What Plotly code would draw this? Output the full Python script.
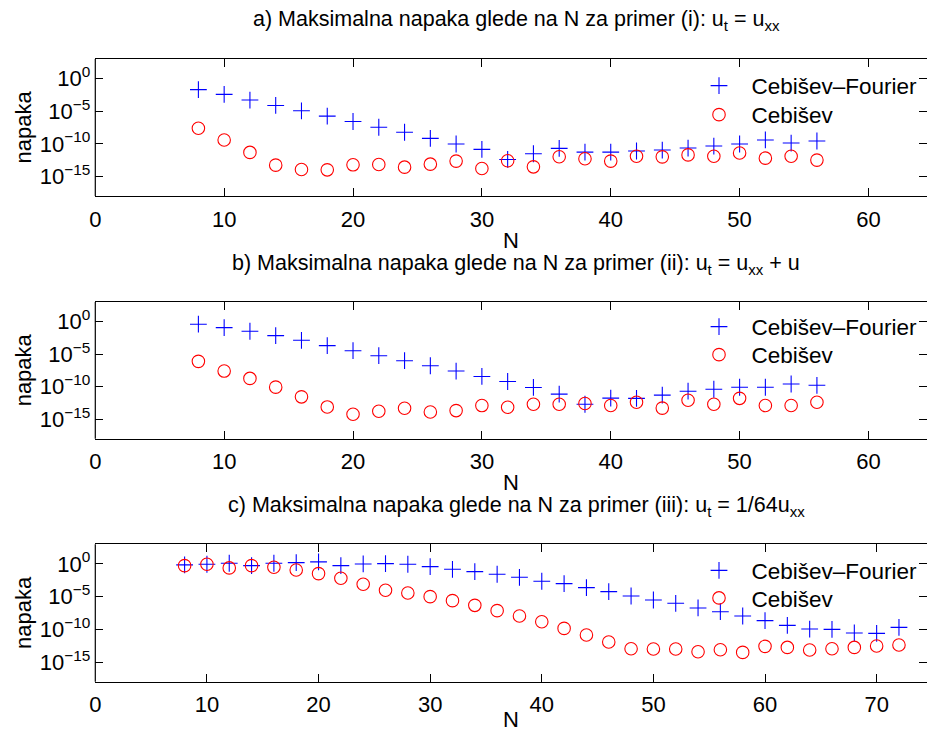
import plotly.graph_objects as go

# ---------------- data (log10 of maximum error) ----------------
N_ab = [8, 10, 12, 14, 16, 18, 20, 22, 24, 26, 28, 30, 32, 34, 36, 38, 40,
        42, 44, 46, 48, 50, 52, 54, 56]
N_c = [8, 10, 12, 14, 16, 18, 20, 22, 24, 26, 28, 30, 32, 34, 36, 38, 40,
       42, 44, 46, 48, 50, 52, 54, 56, 58, 60, 62, 64, 66, 68, 70, 72]

a_cf_log10 = [-1.70, -2.42, -3.29, -4.12, -4.94, -5.76, -6.58, -7.46, -8.23,
              -9.16, -10.03, -10.85, -12.40, -11.52, -10.70, -11.27, -11.27,
              -11.10, -10.96, -10.65, -10.34, -10.03, -9.41, -9.88, -9.57]
a_c_log10 = [-7.61, -9.41, -11.32, -13.27, -13.94, -13.99, -13.22, -13.17,
             -13.58, -13.12, -12.65, -13.79, -12.60, -13.53, -11.99, -12.29,
             -12.65, -11.90, -12.00, -11.70, -11.90, -11.40, -12.20, -11.90,
             -12.50]

b_cf_log10 = [-0.41, -0.93, -1.49, -2.16, -2.88, -3.70, -4.48, -5.25, -6.02,
              -6.79, -7.61, -8.44, -9.21, -10.13, -11.16, -12.71, -11.77,
              -11.80, -11.30, -10.70, -10.40, -10.10, -10.10, -9.60, -9.80]
b_c_log10 = [-6.12, -7.61, -8.74, -10.08, -11.57, -13.12, -14.25, -13.79,
             -13.32, -13.89, -13.68, -12.91, -13.17, -12.71, -12.71, -12.60,
             -12.90, -12.40, -13.30, -12.10, -12.70, -11.80, -12.90, -12.90,
             -12.40]

c_cf_log10 = [-0.15, -0.05, 0.10, -0.26, 0.10, 0.20, 0.31, -0.26, 0.00, 0.05,
              -0.05, -0.41, -0.82, -1.17, -1.58, -2.04, -2.65, -3.01, -3.62,
              -4.23, -4.90, -5.51, -6.02, -6.73, -7.30, -7.96, -8.67, -9.39,
              -9.95, -10.00, -10.56, -10.61, -9.69]
c_c_log10 = [-0.26, -0.05, -0.61, -0.26, -0.51, -0.92, -1.48, -2.19, -3.11,
             -4.03, -4.44, -5.00, -5.61, -6.33, -7.14, -7.96, -8.83, -9.85,
             -10.87, -11.94, -12.96, -13.01, -13.01, -13.42, -13.11, -13.52,
             -12.60, -12.76, -13.16, -12.96, -12.76, -12.55, -12.40]

titles = [
    "a) Maksimalna napaka glede na N za primer (i): u<sub>t</sub> = u<sub>xx</sub>",
    "b) Maksimalna napaka glede na N za primer (ii): u<sub>t</sub> = u<sub>xx</sub> + u",
    "c) Maksimalna napaka glede na N za primer (iii): u<sub>t</sub> = 1/64u<sub>xx</sub>",
]
name_cf = "Cebišev\u2013Fourier"
name_c = "Cebišev"
y_tickvals = [1e0, 1e-5, 1e-10, 1e-15]
y_ticktext = ["10<sup>0</sup>", "10<sup>\u22125</sup>", "10<sup>\u221210</sup>",
              "10<sup>\u221215</sup>"]
x_ticks_ab = [0, 10, 20, 30, 40, 50, 60]
x_ticks_c = [0, 10, 20, 30, 40, 50, 60, 70]

# ---------------- layout geometry ----------------
W, H = 927, 733
FONT = "Liberation Sans, Arial, Helvetica, sans-serif"
x_left = 95.3
panels = [  # (top px, bottom px)
    (59.0, 196.0),
    (302.0, 438.7),
    (544.3, 681.7),
]
x_max = [(W - x_left) / 12.886, (W - x_left) / 12.886, (W - x_left) / 11.162]
legend_cf_y = [86.0, 327.0, 570.7]
legend_c_y = [115.0, 355.0, 598.3]
xlabel_gap = [44, 44, 38]

fig = go.Figure()

series = [
    (N_ab, a_cf_log10, a_c_log10),
    (N_ab, b_cf_log10, b_c_log10),
    (N_c, c_cf_log10, c_c_log10),
]

NB = "\u00a0\u00a0"
for i, (nx, cf, cc) in enumerate(series):
    sfx = "" if i == 0 else str(i + 1)
    fig.add_trace(go.Scatter(
        x=nx, y=[10 ** v for v in cf], mode="markers", name=NB + name_cf,
        xaxis="x" + sfx, yaxis="y" + sfx,
        legend="legend" + ("" if i == 0 else str(2 * i + 1)),
        marker=dict(symbol="cross-thin", size=12, color="#0000ff",
                    line=dict(color="#0000ff", width=1.1)),
    ))
    fig.add_trace(go.Scatter(
        x=nx, y=[10 ** v for v in cc], mode="markers", name=NB + name_c,
        xaxis="x" + sfx, yaxis="y" + sfx,
        legend="legend" + str(2 * i + 2),
        marker=dict(symbol="circle-open", size=12.5, color="#ff0000",
                    line=dict(color="#ff0000", width=1.1)),
    ))

layout = dict(
    width=W, height=H,
    margin=dict(l=0, r=0, t=0, b=0, autoexpand=False),
    paper_bgcolor="white", plot_bgcolor="white",
    font=dict(family=FONT, size=22, color="black"),
    showlegend=True,
)

annotations = []
shapes = []
for i, (top, bot) in enumerate(panels):
    sfx = "" if i == 0 else str(i + 1)
    ydom = [1 - bot / H, 1 - top / H]
    layout["xaxis" + sfx] = dict(
        domain=[x_left / W, 1], range=[0, x_max[i]],
        anchor="y" + sfx, showgrid=False, zeroline=False,
        showline=True, linecolor="black", linewidth=1.2, mirror="ticks",
        ticks="inside", ticklen=8, tickcolor="black", tickwidth=1,
        tickvals=x_ticks_c if i == 2 else x_ticks_ab,
        tickfont=dict(size=22), ticklabelstandoff=3,
    )
    layout["yaxis" + sfx] = dict(
        domain=ydom, type="log", range=[-18, 3],
        anchor="x" + sfx, showgrid=False, zeroline=False,
        showline=False, mirror="ticks",
        ticks="inside", ticklen=8, tickcolor="black", tickwidth=1,
        tickvals=y_tickvals, ticktext=y_ticktext,
        tickfont=dict(size=22), ticklabelstandoff=4,
    )
    shapes.append(dict(type="line", xref="x" + sfx + " domain",
                       yref="y" + sfx + " domain", x0=0, x1=0, y0=0, y1=1,
                       line=dict(color="black", width=1.2)))
    # title
    annotations.append(dict(
        text=titles[i], x=516 / W, y=1 - (top - 38) / H, xref="paper",
        yref="paper", xanchor="center", yanchor="middle", showarrow=False,
        font=dict(size=21.5),
    ))
    # x label
    annotations.append(dict(
        text="N", x=(x_left + W) / 2 / W, y=1 - (bot + xlabel_gap[i]) / H,
        xref="paper", yref="paper", xanchor="center", yanchor="middle",
        showarrow=False, font=dict(size=22),
    ))
    # y label
    annotations.append(dict(
        text="napaka", x=23 / W, y=1 - (top + bot) / 2 / H, xref="paper",
        yref="paper", xanchor="center", yanchor="middle", showarrow=False,
        textangle=-90, font=dict(size=22),
    ))
    for j, ly in enumerate((legend_cf_y[i], legend_c_y[i])):
        k = 2 * i + 1 + j
        key = "legend" if k == 1 else "legend" + str(k)
        layout[key] = dict(
            x=699 / W, y=1 - ly / H, xanchor="left", yanchor="middle",
            bgcolor="rgba(0,0,0,0)", borderwidth=0,
            font=dict(size=22.5, family=FONT), tracegroupgap=0,
        )

layout["annotations"] = annotations
layout["shapes"] = shapes
fig.update_layout(**layout)

fig.write_html("out.html",
               config={"displayModeBar": False},
               post_script="document.body.style.margin='0px';")
